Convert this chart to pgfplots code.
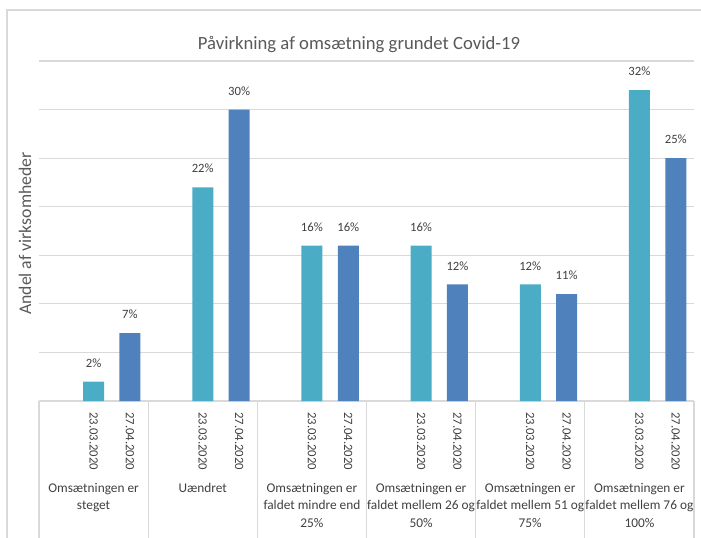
\documentclass[border=0pt]{standalone}
\usepackage{fontspec}
\setmainfont{Carlito}
\usepackage{pgfplots}
\pgfplotsset{compat=1.18}
\definecolor{barA}{HTML}{4BACC6}
\definecolor{barB}{HTML}{4F81BD}
\definecolor{gridc}{HTML}{D9D9D9}
\definecolor{txt}{HTML}{595959}
\definecolor{lbl}{HTML}{404040}

\begin{document}
\begin{tikzpicture}
\useasboundingbox (0,0) rectangle (525.75pt,402.75pt);
\clip (0,0) rectangle (525.75pt,402.75pt);
% outer chart frame (cut by the page edge at right and bottom)
\draw[gridc, line width=0.9pt] (5.25pt,-5pt) rectangle (540pt,395.25pt);

\node[font=\fontsize{14}{16}\selectfont, color=txt] at (269.25pt,369.75pt)
  {Påvirkning af omsætning grundet Covid-19};
\node[rotate=90, font=\fontsize{13.3}{15}\selectfont, color=txt] at (18.75pt,227.6pt)
  {Andel af virksomheder};

\begin{axis}[
    at={(29.25pt,102pt)}, anchor=south west,
    scale only axis,
    width=491.25pt, height=255pt,
    xmin=-0.5, xmax=17.5,
    ymin=0, ymax=35,
    ytick distance=5,
    yticklabels={},
    ymajorgrids,
    major grid style={gridc, line width=0.9pt},
    axis line style={draw=none},
    major tick length=0pt,
    xtick={1,2,4,5,7,8,10,11,13,14,16,17},
    xticklabels={23.03.2020,27.04.2020,23.03.2020,27.04.2020,23.03.2020,27.04.2020,
                 23.03.2020,27.04.2020,23.03.2020,27.04.2020,23.03.2020,27.04.2020},
    xticklabel style={rotate=-90, anchor=west, inner sep=0pt,
                      font=\fontsize{9.5}{11}\selectfont, color=lbl},
    xticklabel shift=8.25pt,
    clip=false,
    ybar,
    bar width=15.75pt,
    /pgf/number format/assume math mode=true,
    nodes near coords={\pgfmathprintnumber{\pgfplotspointmeta}\%},
    every node near coord/.append style={font=\fontsize{9.5}{11}\selectfont,
                                         color=lbl, inner sep=0pt, yshift=10.5pt},
]

\addplot[bar shift=0pt, fill=barA, draw=none]
    coordinates {(1,2) (4,22) (7,16) (10,16) (13,12) (16,32)};

\addplot[bar shift=0pt, fill=barB, draw=none]
    coordinates {(2,7) (5,30) (8,16) (11,12) (14,11) (17,25)};

% separators of the category groups
\draw[gridc, line width=0.9pt] (axis cs:-0.5,0) -- (axis cs:-0.5,-20);
\draw[gridc, line width=0.9pt] (axis cs:2.5,0) -- (axis cs:2.5,-20);
\draw[gridc, line width=0.9pt] (axis cs:5.5,0) -- (axis cs:5.5,-20);
\draw[gridc, line width=0.9pt] (axis cs:8.5,0) -- (axis cs:8.5,-20);
\draw[gridc, line width=0.9pt] (axis cs:11.5,0) -- (axis cs:11.5,-20);
\draw[gridc, line width=0.9pt] (axis cs:14.5,0) -- (axis cs:14.5,-20);
\draw[gridc, line width=0.9pt] (axis cs:17.5,0) -- (axis cs:17.5,-20);

\tikzset{grp/.style={anchor=north, yshift=-61.5pt, align=center, inner sep=0pt,
                     font=\fontsize{10}{13}\selectfont, color=lbl}}
\node[grp] at (axis cs:1,0)  {Omsætningen er\\steget};
\node[grp] at (axis cs:4,0)  {Uændret};
\node[grp] at (axis cs:7,0)  {Omsætningen er\\faldet mindre end\\25\%};
\node[grp] at (axis cs:10,0) {Omsætningen er\\faldet mellem 26 og\\50\%};
\node[grp] at (axis cs:13,0) {Omsætningen er\\faldet mellem 51 og\\75\%};
\node[grp] at (axis cs:16,0) {Omsætningen er\\faldet mellem 76 og\\100\%};
\end{axis}
\end{tikzpicture}
\end{document}
